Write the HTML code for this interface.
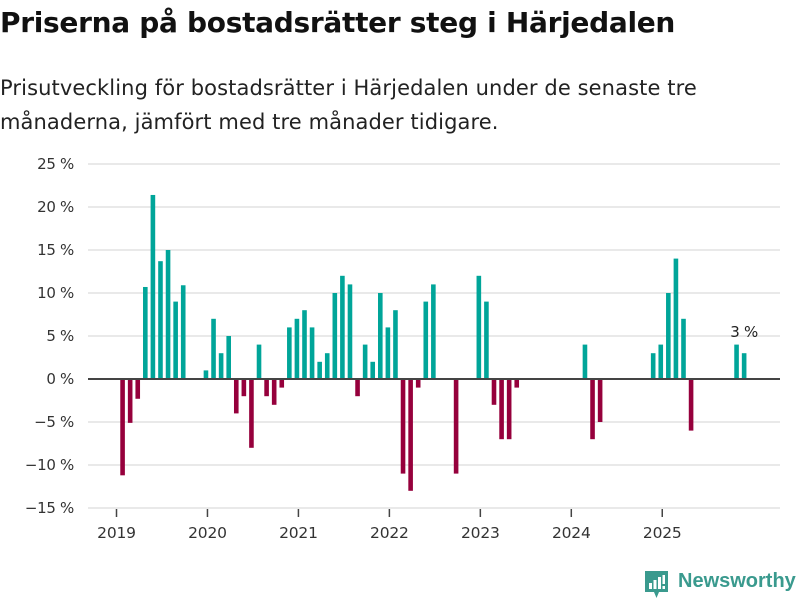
<!DOCTYPE html>
<html><head><meta charset="utf-8">
<style>
body{margin:0;width:800px;height:600px;background:#fff;font-family:"DejaVu Sans","Liberation Sans",sans-serif;overflow:hidden;position:relative}
h1{position:absolute;left:0;top:6px;margin:0;font-size:28px;font-weight:bold;color:#111;letter-spacing:-0.3px;white-space:nowrap}
p{position:absolute;left:0;top:71px;margin:0;font-size:21px;line-height:34px;color:#222;width:760px;letter-spacing:0.1px;white-space:nowrap}
svg{position:absolute;left:0;top:0}
</style></head><body>
<h1>Priserna på bostadsrätter steg i Härjedalen</h1>
<p>Prisutveckling för bostadsrätter i Härjedalen under de senaste tre<br>månaderna, jämfört med tre månader tidigare.</p>
<svg id="chart" width="800" height="600"></svg>
<div style="position:absolute;left:645px;top:571px;">
<svg width="24" height="28" style="position:static"><path d="M0 0H23V21H14L11.5 27L9 21H0Z" fill="#3a9a8e"/><rect x="4" y="12" width="3" height="6" fill="#fff"/><rect x="8.5" y="9" width="3" height="9" fill="#fff"/><rect x="13" y="6" width="3" height="12" fill="#fff"/><rect x="17.5" y="4" width="2.5" height="9" fill="#fff"/><rect x="17.5" y="15" width="2.5" height="3" fill="#fff"/></svg>
</div>
<div style="position:absolute;left:678px;top:570px;font-family:'Liberation Sans',sans-serif;font-size:20px;font-weight:bold;color:#3a9a8e;">Newsworthy</div>
<script>
const months=["2019-02","2019-03","2019-04","2019-05","2019-06","2019-07","2019-08","2019-09","2019-10",
"2020-01","2020-02","2020-03","2020-04","2020-05","2020-06","2020-07","2020-08","2020-09","2020-10","2020-11","2020-12",
"2021-01","2021-02","2021-03","2021-04","2021-05","2021-06","2021-07","2021-08","2021-09","2021-10","2021-11","2021-12",
"2022-01","2022-02","2022-03","2022-04","2022-05","2022-06","2022-07","2022-10",
"2023-01","2023-02","2023-03","2023-04","2023-05","2023-06",
"2024-03","2024-04","2024-05",
"2024-12","2025-01","2025-02","2025-03","2025-04","2025-05",
"2025-11","2025-12"];
const values=[-11.2,-5.1,-2.3,10.7,21.4,13.7,15,9,10.9,
1,7,3,5,-4,-2,-8,4,-2,-3,-1,6,
7,8,6,2,3,10,12,11,-2,4,2,10,
6,8,-11,-13,-1,9,11,-11,
12,9,-3,-7,-7,-1,
4,-7,-5,
3,4,10,14,7,-6,
4,3];
const yTicks=[25,20,15,10,5,0,-5,-10,-15];
const xYears=[2019,2020,2021,2022,2023,2024,2025];
const lastLabel="3 %";
const NS="http://www.w3.org/2000/svg";
const svg=document.getElementById('chart');
const y=v=>379-v*8.6;
const x=(yr,m)=>116.5+((yr-2019)*12+m)*7.58;
function mk(t,a){const e=document.createElementNS(NS,t);for(const k in a)e.setAttribute(k,a[k]);svg.appendChild(e);return e;}
yTicks.forEach(t=>{
 if(t!==0){const g=mk('line',{x1:88,x2:780,y1:y(t),y2:y(t),stroke:'#e2e2e2','stroke-width':1.5});
 
 }
 const l=mk('text',{x:74,y:y(t)+5,'text-anchor':'end','font-size':15,fill:'#333','font-family':'DejaVu Sans, sans-serif','letter-spacing':'-0.3'});
 l.textContent=(t<0?'\u2212'+(-t):t)+' %';
 
 
});
xYears.forEach(yr=>{
 const xx=x(yr,0);
 const tk=mk('line',{x1:xx,x2:xx,y1:y(-15)+1,y2:y(-15)+9,stroke:'#444','stroke-width':1.5});
 
 
 const l=mk('text',{x:xx,y:538,'text-anchor':'middle','font-size':15.5,fill:'#333','font-family':'DejaVu Sans, sans-serif','letter-spacing':'-0.2'});
 l.textContent=yr;
 
 
});
months.forEach((m,i)=>{
 const [yr,mo]=m.split('-').map(Number);
 const v=values[i];
 const cx=x(yr,mo-1)-1.5;
 const r=mk('rect',{x:cx-2.3,width:4.6,y:Math.min(y(v),y(0)),height:Math.abs(y(v)-y(0)),fill:v>=0?'#00a599':'#96003c'});
 
 
});
const zl=mk('line',{x1:88,x2:780,y1:y(0),y2:y(0),stroke:'#444','stroke-width':2});


const lm=months[months.length-1].split('-').map(Number);
const lt=mk('text',{x:x(lm[0],lm[1]-1)-1.5,y:y(values[values.length-1])-16,'text-anchor':'middle','font-size':15,fill:'#222','font-family':'DejaVu Sans, sans-serif','letter-spacing':'-0.3'});
lt.textContent=lastLabel;


</script>
</body></html>
